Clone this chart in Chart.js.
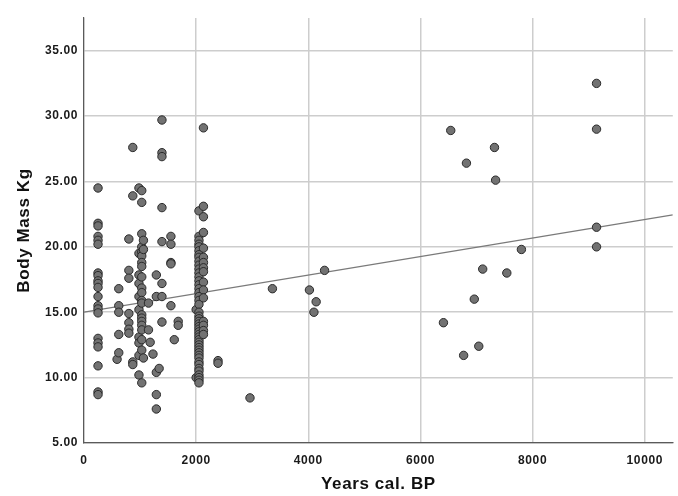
<!DOCTYPE html>
<html>
<head>
<meta charset="utf-8">
<script src="https://cdn.jsdelivr.net/npm/chart.js@4.4.1/dist/chart.umd.min.js"></script>
<style>
  html, body { margin: 0; padding: 0; background: #fff; }
  #wrap { width: 678px; height: 496px; }
</style>
</head>
<body>
<div id="wrap"><canvas id="massChart" width="678" height="496"></canvas></div>
<script>
// Años cal. BP de cada muestra (columnas del gráfico)
const sampleYears = [250, 590, 620, 800, 870, 980, 1030, 1060, 1150, 1180, 1230, 1290, 1340, 1390,
  1550, 1610, 1680, 2000, 2050, 2130, 2390, 2960, 3360, 4020, 4100, 4140, 4290,
  6410, 6540, 6770, 6820, 6960, 7040, 7110, 7320, 7340, 7540, 7800, 9140];

// Masa corporal (kg) medida en cada año
const massBySample = [
  [24.5, 21.8, 21.6, 20.8, 20.5, 20.2, 18.0, 17.8, 17.4, 17.2, 16.9, 16.2, 15.5, 15.25, 14.95, 13.0, 12.65, 12.35, 10.9, 8.9, 8.7],
  [11.4],
  [16.8, 15.5, 15.0, 13.3, 11.9],
  [20.6, 18.2, 17.6, 14.9, 14.2, 13.7, 13.4],
  [27.6, 23.9, 11.2, 11.0],
  [24.5, 19.5, 17.85, 17.2, 16.2, 15.2, 13.1, 12.65, 11.7, 10.2],
  [24.3, 23.4, 21.0, 20.0, 19.6, 19.3, 18.8, 18.5, 17.7, 16.85, 16.5, 15.9, 15.7, 14.8, 14.55, 14.3, 14.0, 13.65, 12.9, 12.1, 9.6],
  [20.5, 19.8, 11.5],
  [15.7, 13.65],
  [12.7],
  [11.8],
  [17.85, 16.2, 10.4, 8.7, 7.6],
  [10.7],
  [29.7, 27.2, 26.9, 23.0, 20.4, 17.2, 16.2, 14.25],
  [20.8, 20.2, 18.8, 18.7, 15.5],
  [12.9],
  [14.3, 14.0],
  [15.2, 10.0],
  [22.75, 20.8, 20.5, 20.2, 20.0, 19.7, 19.4, 19.2, 18.9, 18.6, 18.3, 18.0, 17.7, 17.4, 17.1, 16.8, 16.5, 16.2, 15.9, 15.6,
   15.0, 14.7, 14.5, 14.3, 14.1, 13.9, 13.7, 13.5, 13.3, 13.1, 12.9, 12.7, 12.5, 12.3, 12.1, 11.9, 11.7, 11.5, 11.2, 11.0,
   10.7, 10.5, 10.2, 10.0, 9.8, 9.6],
  [29.1, 23.1, 22.3, 21.1, 19.9, 19.2, 18.8, 18.4, 18.1, 17.3, 16.7, 16.1, 14.3, 14.0, 13.6, 13.3],
  [11.3, 11.1],
  [8.45],
  [16.8],
  [16.7],
  [15.0],
  [15.8],
  [18.2],
  [14.2],
  [28.9],
  [11.7],
  [26.4],
  [16.0],
  [12.4],
  [18.3],
  [27.6],
  [25.1],
  [18.0],
  [19.8],
  [32.5, 29.0, 21.5, 20.0]
];

// Recta de ajuste lineal (extremos)
const fitYears = [0, 10500];
const fitMass = [15.0, 22.44];

// Marcas de los ejes
const xTicks = [0, 2000, 4000, 6000, 8000, 10000];
const yTicks = [5, 10, 15, 20, 25, 30, 35];

const points = [];
sampleYears.forEach((yr, i) => {
  massBySample[i].forEach(m => points.push({ x: yr, y: m }));
});
const fitLine = fitYears.map((yr, i) => ({ x: yr, y: fitMass[i] }));

const tickFont = { family: 'Arial, "Liberation Sans", sans-serif', size: 12, weight: 'bold' };
const titleFont = { family: 'Arial, "Liberation Sans", sans-serif', size: 17, weight: 'bold' };

// Texto algo más espaciado, como en el original
const spacing = {
  id: 'spacing',
  beforeDraw: (chart) => { chart.ctx.letterSpacing = '0.6px'; }
};

const ctx = document.getElementById('massChart').getContext('2d');
new Chart(ctx, {
  type: 'scatter',
  data: {
    datasets: [
      {
        label: 'Fit',
        type: 'line',
        data: fitLine,
        borderColor: '#7a7a7a',
        borderWidth: 1.2,
        pointRadius: 0,
        fill: false,
        order: 2
      },
      {
        label: 'Body Mass',
        data: points,
        backgroundColor: '#727272',
        borderColor: '#2a2a2a',
        borderWidth: 1,
        pointRadius: 4.2,
        order: 1
      }
    ]
  },
  plugins: [spacing],
  options: {
    responsive: false,
    animation: false,
    layout: { padding: { top: 18, right: 5, left: 0, bottom: 0 } },
    plugins: {
      legend: { display: false },
      tooltip: { enabled: false }
    },
    scales: {
      x: {
        type: 'linear',
        min: 0,
        max: 10500,
        afterBuildTicks: (scale) => { scale.ticks = xTicks.map(v => ({ value: v })); },
        afterFit: (scale) => { scale.height = 53; },
        grid: { color: '#cdcdcd', lineWidth: 1.5, drawTicks: false },
        border: { color: '#5a5a5a', width: 1.2 },
        ticks: {
          color: '#1a1a1a', font: tickFont, padding: 10, maxRotation: 0,
          callback: (v) => String(v)
        },
        title: { display: true, text: 'Years cal. BP', color: '#111', font: titleFont, padding: { top: 0, bottom: 1 } }
      },
      y: {
        type: 'linear',
        min: 5,
        max: 37.5,
        afterBuildTicks: (scale) => { scale.ticks = yTicks.map(v => ({ value: v })); },
        afterFit: (scale) => { scale.width = 84; },
        grid: { color: '#cdcdcd', lineWidth: 1.5, drawTicks: false },
        border: { color: '#5a5a5a', width: 1.2 },
        ticks: {
          color: '#1a1a1a', font: tickFont, padding: 6,
          callback: (v) => Number(v).toFixed(2)
        },
        title: { display: true, text: 'Body Mass Kg', color: '#111', font: titleFont, padding: { top: 14, bottom: 0 } }
      }
    }
  }
});
</script>
</body>
</html>
